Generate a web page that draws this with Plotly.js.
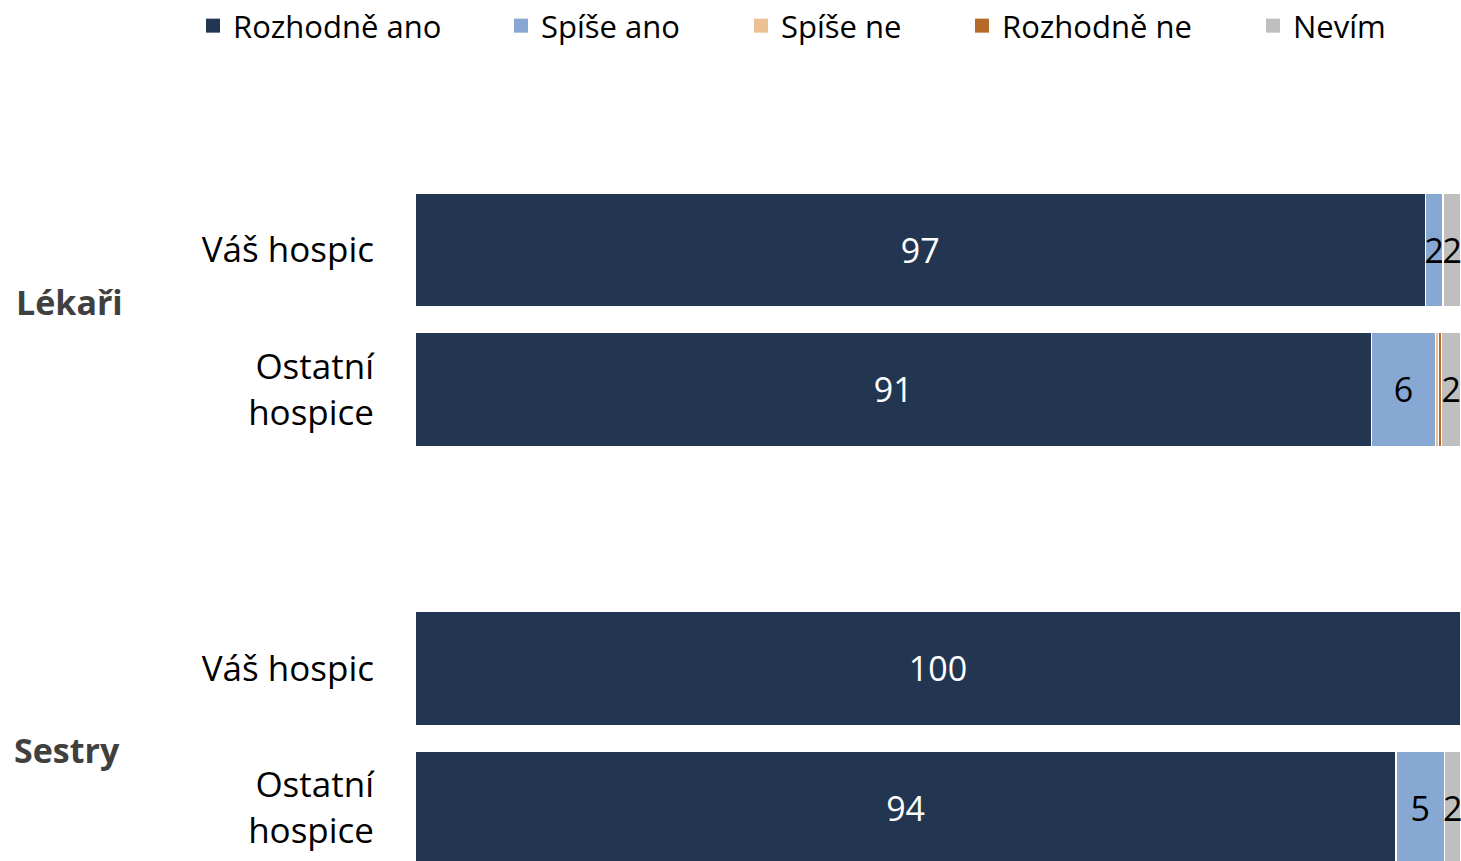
<!DOCTYPE html>
<html>
<head>
<meta charset="utf-8">
<script src="https://cdn.plot.ly/plotly-3.0.1.min.js"></script>
<style>html,body{margin:0;padding:0;background:#fff;}#chart{width:1461px;height:861px;}</style>
</head>
<body>
<div id="chart"></div>
<script>
// ---- data ----
const groups = ["Lékaři", "Sestry"];
const rowLabels = ["Váš hospic", "Ostatní<br>hospice"];
const seriesNames = ["Rozhodně ano", "Spíše ano", "Spíše ne", "Rozhodně ne", "Nevím"];
// order of rows: Lékaři-Váš, Lékaři-Ostatní, Sestry-Váš, Sestry-Ostatní
const rozhodneAno = [96.6, 91.45, 100, 93.8];
const spiseAno    = [1.7, 6.1, 0, 4.6];
const spiseNe     = [0, 0.3, 0, 0];
const rozhodneNe  = [0, 0.3, 0, 0];
const nevim       = [1.7, 1.85, 0, 1.6];

// ---- styling ----
const colors = ["#223651", "#86A8D2", "#EBC092", "#B5692A", "#BFBFBF"];
const textColors = ["#ffffff", "#000000", "#000000", "#000000", "#000000"];
const FONT = "Open Sans, Noto Sans, sans-serif";
const spacer = "\u200b";

// build category list with spacer between groups
const cats = [];
const tickVals = [], tickText = [];
const rowCats = [];
groups.forEach((g, gi) => {
  rowLabels.forEach(r => {
    const id = g + "|" + r;
    cats.push(id); rowCats.push(id);
    tickVals.push(id); tickText.push(r);
  });
  if (gi < groups.length - 1) cats.push(spacer);
});

const allSeries = [rozhodneAno, spiseAno, spiseNe, rozhodneNe, nevim];
const legendX = [207, 515, 755, 976, 1267];
const plotLeft = 415, plotW = 1046, plotTop = 60, plotH = 801;

const traces = [];
allSeries.forEach((vals, i) => {
  const ys = [], xs = [], txt = [];
  rowCats.forEach((c, k) => {
    ys.push(c); xs.push(vals[k]);
    txt.push(vals[k] >= 1 ? String(Math.round(vals[k])) : "");
  });
  traces.push({
    type: "bar", orientation: "h", name: seriesNames[i],
    x: xs, y: ys, text: txt,
    textposition: "inside", insidetextanchor: "middle", textangle: 0,
    constraintext: "none", cliponaxis: false,
    textfont: {family: FONT, size: 34, color: textColors[i]},
    marker: {color: colors[i], line: {color: "#ffffff", width: 1.5}},
    hoverinfo: "skip", showlegend: false
  });
});
// legend entries (square swatches)
seriesNames.forEach((n, i) => {
  traces.push({
    type: "scatter", mode: "markers", name: n,
    x: [null], y: [null],
    marker: {symbol: "square", size: 14, color: colors[i]},
    hoverinfo: "skip", showlegend: true,
    legend: i === 0 ? "legend" : "legend" + (i + 1)
  });
});

const layout = {
  width: 1461, height: 861,
  margin: {l: plotLeft, r: 0, t: plotTop, b: 0, autoexpand: false},
  paper_bgcolor: "#ffffff", plot_bgcolor: "#ffffff",
  barmode: "stack", bargap: 0.183,
  font: {family: FONT, size: 34, color: "#000000"},
  xaxis: {range: [0, 100], visible: false, fixedrange: true},
  yaxis: {
    type: "category", categoryorder: "array", categoryarray: cats,
    range: [4.38, -1.362],
    tickmode: "array", tickvals: tickVals, ticktext: tickText,
    ticks: "", showline: false, showgrid: false, zeroline: false,
    ticklabelstandoff: 40,
    tickfont: {family: FONT, size: 35, color: "#000000"}
  },
  annotations: [
    {text: "<b>" + groups[0] + "</b>", xref: "paper", yref: "paper",
     x: (14 - plotLeft) / plotW, y: 1 - (302 - plotTop) / plotH,
     xanchor: "left", yanchor: "middle", showarrow: false,
     font: {family: FONT, size: 34, color: "#404040"}},
    {text: "<b>" + groups[1] + "</b>", xref: "paper", yref: "paper",
     x: (12 - plotLeft) / plotW, y: 1 - (750 - plotTop) / plotH,
     xanchor: "left", yanchor: "middle", showarrow: false,
     font: {family: FONT, size: 34, color: "#404040"}}
  ],
  showlegend: true
};
legendX.forEach((px, i) => {
  const key = i === 0 ? "legend" : "legend" + (i + 1);
  layout[key] = {
    orientation: "h", x: (px - 14 - plotLeft) / plotW, xanchor: "left",
    y: 1 + (plotTop - 26) / plotH, yanchor: "middle",
    font: {family: FONT, size: 31, color: "#000000"},
    bgcolor: "rgba(0,0,0,0)", borderwidth: 0, itemclick: false, itemdoubleclick: false
  };
});

Plotly.newPlot("chart", traces, layout, {staticPlot: true, displayModeBar: false});
</script>
</body>
</html>
